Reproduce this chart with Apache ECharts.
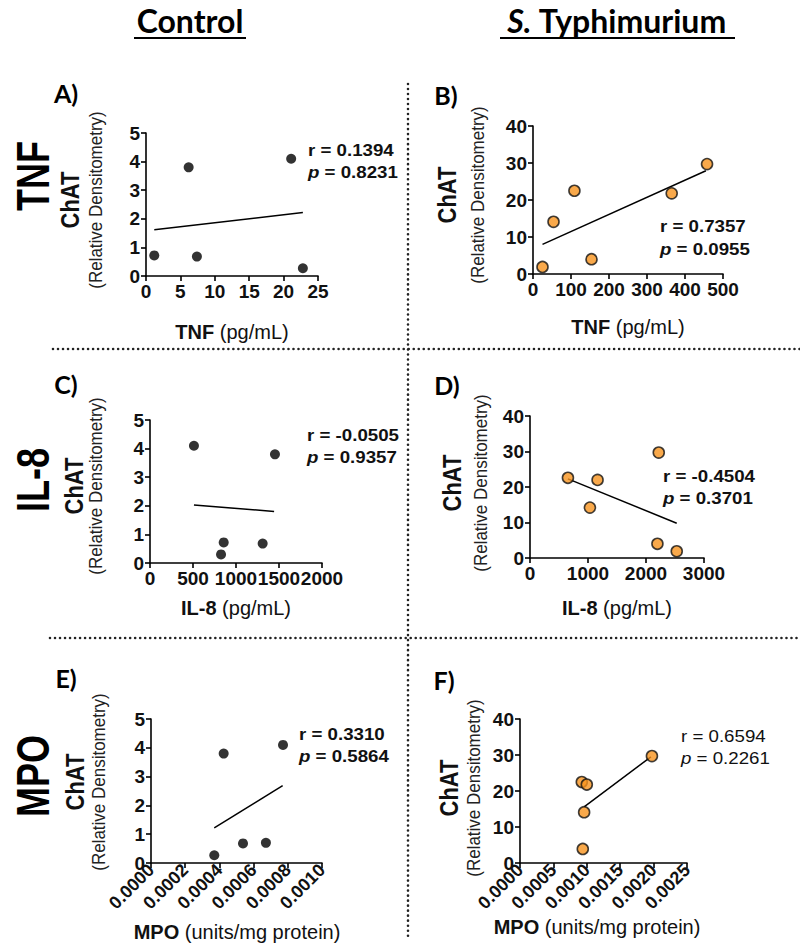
<!DOCTYPE html>
<html><head><meta charset="utf-8">
<script src="https://cdn.jsdelivr.net/npm/echarts@6/dist/echarts.min.js"></script>
<style>html,body{margin:0;padding:0;background:#fff}#c{width:800px;height:943px}</style>
</head><body><div id="c"></div>
<script>
// ---- data ----
const ctrlTnf   = [1.2, 6.2, 7.4, 21.1, 22.8];
const ctrlChatA = [0.72, 3.8, 0.68, 4.1, 0.27];
const stmTnf    = [25, 54, 109, 154, 365, 458];
const stmChatB  = [1.9, 14.1, 22.5, 4.0, 21.8, 29.7];
const ctrlIl8   = [511, 1453, 857, 826, 1310];
const ctrlChatC = [4.1, 3.8, 0.72, 0.3, 0.68];
const stmIl8    = [654, 1033, 1165, 2220, 2197, 2530];
const stmChatD  = [22.6, 14.2, 22.0, 29.7, 4.0, 1.9];
const ctrlMpo   = [0.00037, 0.000425, 0.000538, 0.000672, 0.000772];
const ctrlChatE = [0.27, 3.8, 0.68, 0.7, 4.1];
const stmMpo    = [0.000925, 0.001, 0.00096, 0.00094, 0.001975];
const stmChatF  = [22.5, 21.8, 14.1, 3.9, 29.7];

// regression line end points (x, y)
const fitA = [[1.2, 1.62], [22.8, 2.22]];
const fitB = [[25, 8.0], [455, 27.9]];
const fitC = [[511, 2.03], [1443, 1.80]];
const fitD = [[654, 22.3], [2530, 9.8]];
const fitE = [[0.00037, 1.22], [0.00077, 2.69]];
const fitF = [[0.00096, 15.6], [0.00196, 29.5]];

const rVals = ['0.1394', '0.7357', '-0.0505', '-0.4504', '0.3310', '0.6594'];
const pVals = ['0.8231', '0.0955', '0.9357', '0.3701', '0.5864', '0.2261'];
const panelLetters = ['A)', 'B)', 'C)', 'D)', 'E)', 'F)'];
const rowLabels = ['TNF', 'IL-8', 'MPO'];
const colHeaders = ['Control', 'S. Typhimurium'];
const xTitles = ['TNF', 'TNF', 'IL-8', 'IL-8', 'MPO', 'MPO'];
const xUnits = ['(pg/mL)', '(pg/mL)', '(pg/mL)', '(pg/mL)', '(units/mg protein)', '(units/mg protein)'];
const xRanges = [[0, 25, 5], [0, 500, 100], [0, 2000, 500], [0, 3000, 1000], [0, 0.001, 0.0002], [0, 0.0025, 0.0005]];
const yCtrlRange = [0, 5, 1];
const yStmRange = [0, 40, 10];

// ---- layout ----
const F = 'Liberation Sans, Arial, Helvetica, sans-serif';
const grids = [
  {left: 146, top: 133, width: 172, height: 143},
  {left: 533, top: 126, width: 190, height: 148},
  {left: 150, top: 420, width: 172, height: 143},
  {left: 530, top: 416, width: 174, height: 142},
  {left: 151, top: 719, width: 171, height: 144},
  {left: 520, top: 719, width: 167, height: 144}
];
const statPos = [[308,150,172],[660,226,249],[307,435,457],[663,476,498],[299,734,756],[681,736,758]];
const letterPos = [[66,93],[446,95],[66,384],[447,385],[66,678],[444,680]];
const yTitlePos = [[70,96,200],[447,478,195],[74,96,486],[452,481,483],[75,99,782],[449,474,788]];
const xTitlePos = [[232,332],[628,327],[236,608],[617,608],[237,932],[597,927]];

const scatterData = [
  [ctrlTnf, ctrlChatA], [stmTnf, stmChatB], [ctrlIl8, ctrlChatC],
  [stmIl8, stmChatD], [ctrlMpo, ctrlChatE], [stmMpo, stmChatF]
];
const fits = [fitA, fitB, fitC, fitD, fitE, fitF];

const xAxes = [], yAxes = [], series = [], graphic = [];
for (let i = 0; i < 6; i++) {
  const rot = i >= 4;
  const xr = xRanges[i];
  xAxes.push({
    gridIndex: i, type: 'value', min: xr[0], max: xr[1], interval: xr[2],
    axisLine: {lineStyle: {color: '#000', width: 1.6}},
    axisTick: {show: true, length: 5, lineStyle: {color: '#000', width: 1.6}},
    splitLine: {show: false},
    axisLabel: {
      color: '#111', fontFamily: F, fontWeight: 'bold', fontSize: rot ? 18 : 19,
      margin: rot ? 4 : 6, rotate: rot ? 45 : 0,
      formatter: rot ? (v => v.toFixed(4)) : (v => String(v))
    }
  });
  const yr = (i % 2 === 0) ? yCtrlRange : yStmRange;
  yAxes.push({
    gridIndex: i, type: 'value', min: yr[0], max: yr[1], interval: yr[2],
    axisLine: {show: true, lineStyle: {color: '#000', width: 1.6}},
    axisTick: {show: true, length: 5, lineStyle: {color: '#000', width: 1.6}},
    splitLine: {show: false},
    axisLabel: {color: '#111', fontFamily: F, fontWeight: 'bold', fontSize: 19, margin: 6}
  });
  const [xs, ys] = scatterData[i];
  const ctrl = i % 2 === 0;
  series.push({
    type: 'scatter', xAxisIndex: i, yAxisIndex: i,
    data: xs.map((x, k) => [x, ys[k]]),
    symbolSize: ctrl ? 10 : 11,
    itemStyle: ctrl ? {color: '#000'} : {color: '#F7931E', borderColor: '#111', borderWidth: 1.6},
    z: 3
  });
  series.push({
    type: 'line', xAxisIndex: i, yAxisIndex: i, data: fits[i],
    symbol: 'none', lineStyle: {color: '#000', width: 1.5}, z: 2
  });

  // r / p statistics
  const sp = statPos[i];
  const bold = i !== 5 ? 'bold' : 'normal';
  graphic.push({type: 'text', x: sp[0], y: sp[1], scaleX: 1.1, style: {
    text: 'r = ' + rVals[i], font: bold + ' 17px ' + F, fill: '#111', textVerticalAlign: 'middle'}});
  graphic.push({type: 'text', x: sp[0], y: sp[2], scaleX: 1.1, style: {
    text: '{i|p} = ' + pVals[i], font: bold + ' 17px ' + F, fill: '#111', textVerticalAlign: 'middle',
    rich: {i: {fontStyle: 'italic', fontWeight: bold, fontSize: 17, fontFamily: F, fill: '#111'}}}});

  // panel letter
  graphic.push({type: 'text', x: letterPos[i][0], y: letterPos[i][1], style: {
    text: panelLetters[i], font: 'bold 25px Lato, ' + F, fill: '#000', textAlign: 'center', textVerticalAlign: 'middle'}});

  // y title
  const yt = yTitlePos[i];
  graphic.push({type: 'text', x: yt[0], y: yt[2], rotation: Math.PI / 2, scaleY: 1.15, style: {
    text: 'ChAT', font: 'bold 22px ' + F, fill: '#111', textAlign: 'center', textVerticalAlign: 'middle'}});
  graphic.push({type: 'text', x: yt[1], y: yt[2], rotation: Math.PI / 2, scaleY: 1.1, style: {
    text: '(Relative Densitometry)', font: '17px ' + F, fill: '#222', textAlign: 'center', textVerticalAlign: 'middle'}});

  // x title
  const xt = xTitlePos[i];
  graphic.push({type: 'text', x: xt[0], y: xt[1], style: {
    text: '{b|' + xTitles[i] + '} ' + xUnits[i], font: '20px ' + F, fill: '#111',
    textAlign: 'center', textVerticalAlign: 'middle',
    rich: {b: {fontWeight: 'bold', fontSize: 20, fontFamily: F, fill: '#111'}}}});
}

// row labels
const rowY = [176, 480, 776];
rowLabels.forEach((t, k) => graphic.push({type: 'text', x: 33, y: rowY[k], rotation: Math.PI / 2, scaleY: 1.3, style: {
  text: t, font: 'bold 36px ' + F, fill: '#000', textAlign: 'center', textVerticalAlign: 'middle'}}));

// column headers
graphic.push({type: 'text', x: 190, y: 20, style: {text: colHeaders[0], font: 'bold 32px Lato, ' + F, fill: '#000',
  textAlign: 'center', textVerticalAlign: 'middle'}});
graphic.push({type: 'line', shape: {x1: 134, y1: 38, x2: 246, y2: 38}, style: {stroke: '#000', lineWidth: 2}});
graphic.push({type: 'text', x: 617, y: 20, style: {text: '{i|S.} Typhimurium', font: 'bold 32px Lato, ' + F, fill: '#000',
  textAlign: 'center', textVerticalAlign: 'middle',
  rich: {i: {fontStyle: 'italic', fontWeight: 'bold', fontSize: 32, fontFamily: 'Lato', fill: '#000'}}}});
graphic.push({type: 'line', shape: {x1: 500, y1: 38, x2: 735, y2: 38}, style: {stroke: '#000', lineWidth: 2}});

// dotted separators
const dot = {stroke: '#222', lineWidth: 2.6, lineDash: [0.01, 5], lineCap: 'round'};
graphic.push({type: 'line', shape: {x1: 53, y1: 349, x2: 800, y2: 349}, style: dot});
graphic.push({type: 'line', shape: {x1: 50, y1: 638, x2: 800, y2: 638}, style: dot});
graphic.push({type: 'line', shape: {x1: 408, y1: 84, x2: 408, y2: 940}, style: dot});

const chart = echarts.init(document.getElementById('c'), null, {renderer: 'svg'});
chart.setOption({
  animation: false,
  backgroundColor: '#fff',
  grid: grids.map(g => Object.assign({containLabel: false}, g)),
  xAxis: xAxes, yAxis: yAxes, series: series, graphic: graphic
});
</script></body></html>
